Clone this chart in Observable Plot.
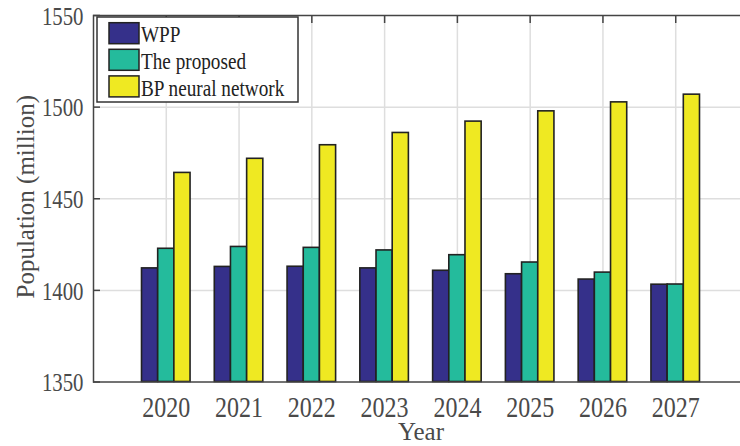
<!DOCTYPE html>
<html>
<head>
<meta charset="utf-8">
<script src="https://cdn.jsdelivr.net/npm/d3@7"></script>
<script src="https://cdn.jsdelivr.net/npm/@observablehq/plot@0.6"></script>
<style>
  html, body { margin: 0; padding: 0; background: #fff; }
  #chart svg { display: block; overflow: hidden; }
</style>
</head>
<body>
<div id="chart"></div>
<script>
// Population forecasts for 2020–2027 (million people)
const years = [2020, 2021, 2022, 2023, 2024, 2025, 2026, 2027];
const seriesNames = ["WPP", "The proposed", "BP neural network"];
const seriesColors = ["#35308a", "#24bb9c", "#efe922"];
const wpp = [1412.0, 1412.8, 1412.9, 1412.0, 1410.7, 1408.8, 1405.9, 1403.1];
const proposed = [1422.7, 1423.7, 1423.2, 1421.8, 1419.2, 1415.2, 1409.7, 1403.2];
const bpNetwork = [1464.1, 1471.8, 1479.2, 1485.9, 1492.1, 1497.7, 1502.6, 1506.8];
const yTicks = [1350, 1400, 1450, 1500, 1550];
const yGridTicks = [1400, 1450, 1500];

const font = "'Liberation Serif', 'Times New Roman', serif";
const axisColor = "#444";
const labelColor = "#4a4a4a";
const marginLeft = 93, marginTop = 15;

// one row per (year, series), bars grouped side by side around each year
const seriesValues = [wpp, proposed, bpNetwork];
const groupWidth = 0.667;
const barWidth = groupWidth / seriesNames.length;
const rows = years.flatMap((year, i) =>
  seriesValues.map((vals, s) => ({year, slot: s, series: seriesNames[s], value: vals[i]}))
);
const x1 = d => d.year - groupWidth / 2 + d.slot * barWidth;
const x2 = d => x1(d) + barWidth;

const chart = Plot.plot({
  width: 740,
  height: 446,
  marginLeft,
  marginTop,
  marginBottom: 64.5,
  marginRight: -8,
  style: {fontFamily: font, background: "#fff"},
  x: {domain: [2019, 2028], label: null},
  y: {domain: [1350, 1550], label: null},
  color: {domain: seriesNames, range: seriesColors},
  marks: [
    Plot.gridX(years, {stroke: "#dedede", strokeOpacity: 1, strokeWidth: 1.5}),
    Plot.gridY(yGridTicks, {stroke: "#dedede", strokeOpacity: 1, strokeWidth: 1.5}),
    // inward ticks along the bottom edge (behind the bars)
    Plot.axisX(years, {anchor: "bottom", tickSize: 7, dy: -7, fill: "none", stroke: axisColor, strokeWidth: 1.5, label: null}),
    Plot.rect(rows, {
      x1, x2,
      y1: 1350,
      y2: "value",
      fill: "series",
      stroke: "#222",
      strokeWidth: 1.6
    }),
    Plot.frame({stroke: axisColor, strokeWidth: 1.5}),
    // inward ticks along the left and top edges
    Plot.axisY(yTicks, {anchor: "left", tickSize: 7, dx: 7, fill: "none", stroke: axisColor, strokeWidth: 1.5, label: null}),
    Plot.axisX(years, {anchor: "top", tickSize: 7, dy: 7, fill: "none", stroke: axisColor, strokeWidth: 1.5, label: null}),
    // tick labels
    Plot.axisY(yTicks, {anchor: "left", tickSize: 0, tickPadding: 10, dy: 1, fontSize: 26, fill: labelColor, stroke: "none", label: null, tickFormat: d => String(d)}),
    Plot.axisX(years, {anchor: "bottom", tickSize: 0, tickPadding: 14, fontSize: 30, fill: labelColor, stroke: "none", label: null, tickFormat: d => String(d)}),
    // axis titles
    Plot.text(["Population (million)"], {frameAnchor: "left", textAnchor: "middle", rotate: -90, dx: -60, dy: -2, lineAnchor: "bottom", fontSize: 25, fill: labelColor, text: d => d}),
    Plot.text(["Year"], {frameAnchor: "bottom", textAnchor: "middle", dy: 58, lineAnchor: "bottom", fontSize: 25, fill: labelColor, text: d => d})
  ]
});

document.getElementById("chart").appendChild(chart);

// legend box in the upper-left corner of the axes
const svg = d3.select(chart);
const legend = svg.append("g")
  .attr("transform", `translate(${marginLeft + 4},${marginTop + 2})`)
  .attr("font-family", font)
  .attr("text-anchor", "start");
legend.append("rect")
  .attr("width", 201).attr("height", 85)
  .attr("fill", "#fff").attr("stroke", "#333").attr("stroke-width", 1.5);
seriesNames.forEach((name, i) => {
  const row = legend.append("g").attr("transform", `translate(12,${5.7 + i * 26.6})`);
  row.append("rect")
    .attr("width", 30).attr("height", 21)
    .attr("fill", seriesColors[i]).attr("stroke", "#222").attr("stroke-width", 1.5);
  row.append("text")
    .attr("class", "narrow")
    .attr("x", 32).attr("y", 19.6)
    .attr("text-anchor", "start")
    .attr("font-size", 24).attr("fill", "#222")
    .text(name);
});

// tick labels and legend entries are set in a narrowed serif
const narrowTexts = [
  ...chart.querySelectorAll('g[aria-label="y-axis tick label"] text'),
  ...chart.querySelectorAll('g[aria-label="x-axis tick label"] text'),
  ...chart.querySelectorAll("text.narrow")
];
for (const t of narrowTexts) {
  const len = t.getComputedTextLength();
  t.setAttribute("textLength", (len * 0.8).toFixed(2));
  t.setAttribute("lengthAdjust", "spacingAndGlyphs");
}
</script>
</body>
</html>
